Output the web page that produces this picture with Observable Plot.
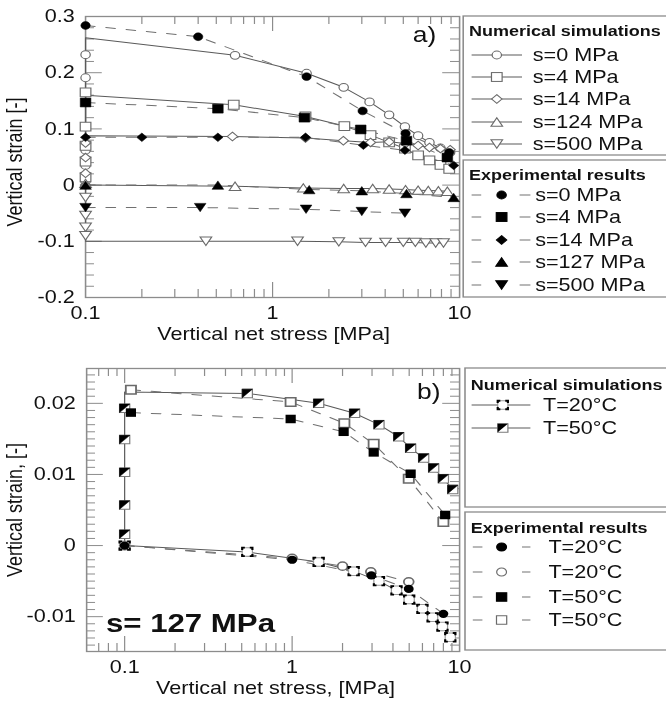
<!DOCTYPE html>
<html>
<head>
<meta charset="utf-8">
<script src="https://cdn.jsdelivr.net/npm/d3@7"></script>
<script src="https://cdn.jsdelivr.net/npm/@observablehq/plot@0.6"></script>
<style>
  html, body { margin:0; padding:0; background:#fff; width:666px; height:701px; overflow:hidden; }
  #stage { position:absolute; left:0; top:0; width:555px; height:701px; transform:scaleX(1.2); transform-origin:0 0; }
  #stage > svg { position:absolute; left:0; }
</style>
</head>
<body>
<div id="stage"></div>
<script>
// ================= DATA: panel a) =================
const a_xTicks = [0.1, 1, 10];
const a_yTicks = [-0.2, -0.1, 0, 0.1, 0.2, 0.3];

// Numerical simulations: strains marked at 0.1 MPa (wetting path), corner strain, loading branch
const simA_s0_wet = [0.007, 0.035, 0.062, 0.191, 0.232];
const simA_s0_top = 0.262;
const simA_s0_p = [0.63, 1.52, 2.4, 3.3, 4.2, 5.1, 6.0, 6.9, 7.9, 8.9];
const simA_s0_e = [0.231, 0.199, 0.174, 0.148, 0.125, 0.104, 0.088, 0.076, 0.066, 0.058];

const simA_s4_wet = [0.014, 0.042, 0.070, 0.104, 0.165];
const simA_s4_top = 0.16;
const simA_s4_p = [0.62, 1.5, 2.42, 3.34, 4.2, 5.1, 6.0, 6.9, 7.9, 8.8];
const simA_s4_e = [0.143, 0.122, 0.105, 0.089, 0.076, 0.065, 0.053, 0.044, 0.036, 0.029];

const simA_s14_wet = [0.0, 0.021, 0.049, 0.075];
const simA_s14_top = 0.088;
const simA_s14_p = [0.61, 1.5, 2.39, 3.34, 4.2, 5.14, 6.0, 6.9, 7.9, 8.9];
const simA_s14_e = [0.0865, 0.084, 0.079, 0.076, 0.077, 0.074, 0.0705, 0.067, 0.065, 0.063];

const simA_s124_wet = [0.003];
const simA_s124_top = 0.0;
const simA_s124_p = [0.63, 1.46, 2.4, 3.43, 4.2, 5.14, 6.0, 6.8, 7.7, 8.6];
const simA_s124_e = [-0.002, -0.005, -0.006, -0.006, -0.007, -0.008, -0.009, -0.0095, -0.010, -0.011];

const simA_s500_wet = [-0.022, -0.054, -0.075, -0.09];
const simA_s500_top = -0.1;
const simA_s500_p = [0.44, 1.36, 2.26, 3.14, 4.02, 5.0, 5.8, 6.6, 7.45, 8.2];
const simA_s500_e = [-0.1, -0.1, -0.101, -0.102, -0.102, -0.102, -0.102, -0.103, -0.103, -0.103];

// Experimental results
const expA_s0_p = [0.1, 0.4, 1.52, 3.03, 5.14, 8.8];
const expA_s0_e = [0.284, 0.264, 0.193, 0.132, 0.092, 0.058];
const expA_s4_p = [0.1, 0.51, 1.48, 2.96, 5.2, 8.6];
const expA_s4_e = [0.147, 0.136, 0.12, 0.099, 0.079, 0.049];
const expA_s14_p = [0.1, 0.2, 0.51, 1.5, 3.06, 5.1, 9.3];
const expA_s14_e = [0.085, 0.085, 0.085, 0.085, 0.071, 0.062, 0.035];
const expA_s127_p = [0.1, 0.51, 1.57, 3.0, 5.2, 9.3];
const expA_s127_e = [0.0, 0.0, -0.008, -0.01, -0.015, -0.022];
const expA_s500_p = [0.1, 0.41, 1.51, 3.0, 5.1];
const expA_s500_e = [-0.04, -0.04, -0.043, -0.047, -0.05];

const legSimA = ["s=0 MPa", "s=4 MPa", "s=14 MPa", "s=124 MPa", "s=500 MPa"];
const legExpA = ["s=0 MPa", "s=4 MPa", "s=14 MPa", "s=127 MPa", "s=500 MPa"];

// ================= DATA: panel b) =================
const b_xTicks = [0.1, 1, 10];
const b_yTicks = [-0.01, 0, 0.01, 0.02];

const simB_T20_p = [0.1, 0.54, 1.44, 2.33, 3.3, 4.2, 5.0, 6.0, 6.9, 7.9, 8.8];
const simB_T20_e = [0, -0.0009, -0.0023, -0.0036, -0.005, -0.0063, -0.0076, -0.0089, -0.0101, -0.0114, -0.0129];

const simB_T50_heat = [0.0016, 0.0057, 0.0103, 0.0149, 0.0193];
const simB_T50_top = 0.0216;
const simB_T50_p = [0.54, 1.44, 2.36, 3.3, 4.33, 5.1, 6.1, 7.0, 8.0, 9.1];
const simB_T50_e = [0.0214, 0.0200, 0.0186, 0.0170, 0.0153, 0.0137, 0.0123, 0.0109, 0.0094, 0.0079];

const expB_T20f_p = [0.1, 1.0, 2.97, 4.97, 8.0];
const expB_T20f_e = [0, -0.002, -0.0042, -0.0061, -0.0096];
const expB_T20o_p = [0.1, 1.0, 2.0, 2.95, 4.97];
const expB_T20o_e = [0, -0.0018, -0.0029, -0.0037, -0.0051];
const expB_T50f_p = [0.109, 0.98, 2.03, 3.07, 5.1, 8.2];
const expB_T50f_e = [0.0187, 0.0178, 0.016, 0.0131, 0.0101, 0.0043];
const expB_T50o_p = [0.109, 0.98, 2.05, 3.07, 4.97, 8.0];
const expB_T50o_e = [0.0219, 0.0202, 0.0172, 0.0143, 0.0094, 0.0033];

const legSimB = ["T=20°C", "T=50°C"];
const legExpB = ["T=20°C", "T=20°C", "T=50°C", "T=50°C"];

// ================= STYLE / HELPERS =================
const W = 555;
const SANS = "'Liberation Sans', Arial, Helvetica, sans-serif";
const INK = "#111";
const GRAY = "#8c8c8c";
const SIMLINE = "#5a5a5a";
const EXPLINE = "#707070";
const OPEN = "#6a6a6a";
const stage = document.getElementById("stage");

const R3 = Math.sqrt(3);
const symDiamond = {draw(c, s) { const r = Math.sqrt(s) * 0.62; c.moveTo(0, -r); c.lineTo(r, 0); c.lineTo(0, r); c.lineTo(-r, 0); c.closePath(); }};
const symTriUp = {draw(c, s) { const y = Math.sqrt(s / (3 * R3)); c.moveTo(0, -1.5 * y); c.lineTo(R3 * y, 1.5 * y); c.lineTo(-R3 * y, 1.5 * y); c.closePath(); }};
const symTriDown = {draw(c, s) { const y = Math.sqrt(s / (3 * R3)); c.moveTo(0, 1.5 * y); c.lineTo(R3 * y, -1.5 * y); c.lineTo(-R3 * y, -1.5 * y); c.closePath(); }};
const symHalf = {draw(c, s) { const h = Math.sqrt(s) / 2; c.moveTo(-h, -h); c.lineTo(h, -h); c.lineTo(-h, h); c.closePath(); }};

const pts = (xs, ys, s) => xs.map((x, i) => ({x, y: ys[i], s}));
const at01 = (ys, s) => ys.map(y => ({x: 0.1, y, s}));

function minorTicks(lo, hi, step, majorStep) {
  return d3.range(Math.round(lo / step), Math.round(hi / step) + 1)
    .map(k => k * step)
    .filter(v => Math.abs(v / majorStep - Math.round(v / majorStep)) > 1e-6);
}

function tickMarks(o) {
  const pw = W - o.ml - o.mr, ph = o.h - o.mt - o.mb;
  const py = ph / (o.yd[1] - o.yd[0]);
  const pdec = pw / Math.log10(o.xd[1] / o.xd[0]);
  const dy = L => L / py, fx = L => Math.pow(10, L / pdec);
  const st = {stroke: GRAY, strokeWidth: 1};
  return [
    Plot.ruleX(o.xMinor, {x: d => d, y1: o.yd[0], y2: o.yd[0] + dy(8), ...st}),
    Plot.ruleX(o.xMajor, {x: d => d, y1: o.yd[0], y2: o.yd[0] + dy(15), ...st}),
    Plot.ruleX(o.xMinor, {x: d => d, y1: o.yd[1], y2: o.yd[1] - dy(8), ...st}),
    Plot.ruleX(o.xMajor, {x: d => d, y1: o.yd[1], y2: o.yd[1] - dy(15), ...st}),
    Plot.ruleY(o.yMinor, {y: d => d, x1: o.xd[0], x2: o.xd[0] * fx(7.5), ...st}),
    Plot.ruleY(o.yMajor, {y: d => d, x1: o.xd[0], x2: o.xd[0] * fx(14), ...st}),
    Plot.ruleY(o.yMinor, {y: d => d, x1: o.xd[1], x2: o.xd[1] / fx(7.5), ...st}),
    Plot.ruleY(o.yMajor, {y: d => d, x1: o.xd[1], x2: o.xd[1] / fx(14), ...st})
  ];
}

function panel(o) {
  const svg = Plot.plot({
    width: W, height: o.h,
    marginLeft: o.ml, marginRight: o.mr, marginTop: o.mt, marginBottom: o.mb,
    x: {type: "log", domain: o.xd},
    y: {domain: o.yd},
    style: {fontFamily: SANS, fontSize: "18px", color: INK, background: "transparent", overflow: "visible"},
    marks: [
      ...tickMarks(o),
      Plot.frame({stroke: GRAY, strokeWidth: 1.3}),
      Plot.axisX(o.xTicks, {tickSize: 0, tickPadding: 9, tickFormat: d => String(d), label: null, fontSize: 18, fill: INK}),
      Plot.axisY(o.yTicks, {tickSize: 0, tickPadding: 9, tickFormat: d => String(d), label: null, fontSize: 18, fill: INK}),
      ...o.marks
    ]
  });
  svg.style.top = o.top + "px";
  stage.appendChild(svg);
}

// ================= PANEL a) =================
const simA = [
  {wet: simA_s0_wet, top: simA_s0_top, p: simA_s0_p, e: simA_s0_e, sym: "circle", r: 3.9},
  {wet: simA_s4_wet, top: simA_s4_top, p: simA_s4_p, e: simA_s4_e, sym: "square", r: 5},
  {wet: simA_s14_wet, top: simA_s14_top, p: simA_s14_p, e: simA_s14_e, sym: symDiamond, r: 3.9},
  {wet: simA_s124_wet, top: simA_s124_top, p: simA_s124_p, e: simA_s124_e, sym: symTriUp, r: 3.6},
  {wet: simA_s500_wet, top: simA_s500_top, p: simA_s500_p, e: simA_s500_e, sym: symTriDown, r: 3.6}
];
const expA = [
  {p: expA_s0_p, e: expA_s0_e, sym: "circle", r: 3.9},
  {p: expA_s4_p, e: expA_s4_e, sym: "square", r: 5},
  {p: expA_s14_p, e: expA_s14_e, sym: symDiamond, r: 3.9},
  {p: expA_s127_p, e: expA_s127_e, sym: symTriUp, r: 3.6},
  {p: expA_s500_p, e: expA_s500_e, sym: symTriDown, r: 3.6}
];

const simALines = simA.flatMap((d, i) => [{x: 0.1, y: 0, s: i}, {x: 0.1, y: d.top, s: i}, ...pts(d.p, d.e, i)]);
const expALines = expA.flatMap((d, i) => pts(d.p, d.e, i));

panel({
  top: 0, h: 345, ml: 70.8, mr: 172.5, mt: 16, mb: 48,
  xd: [0.1, 10], yd: [-0.2, 0.3],
  xTicks: a_xTicks, yTicks: a_yTicks,
  xMinor: [0.2, 0.3, 0.4, 0.5, 0.6, 0.7, 0.8, 0.9, 2, 3, 4, 5, 6, 7, 8, 9],
  xMajor: [1],
  yMinor: minorTicks(-0.2, 0.3, 0.02, 0.1),
  yMajor: [-0.1, 0, 0.1, 0.2],
  marks: [
    Plot.line(simALines, {x: "x", y: "y", z: "s", stroke: SIMLINE, strokeWidth: 1}),
    Plot.line(expALines, {x: "x", y: "y", z: "s", stroke: EXPLINE, strokeWidth: 1, strokeDasharray: "8,9"}),
    ...simA.map((d, i) => Plot.dot([...at01(d.wet, i), ...pts(d.p, d.e, i)], {x: "x", y: "y", symbol: d.sym, r: d.r, fill: "white", stroke: OPEN, strokeWidth: 1})),
    ...expA.map((d, i) => Plot.dot(pts(d.p, d.e, i), {x: "x", y: "y", symbol: d.sym, r: d.r, fill: "black", stroke: "black", strokeWidth: 0.5}))
  ]
});

// ================= PANEL b) =================
const sqR = 4.8, sqSide = sqR * Math.sqrt(Math.PI), cornerLen = 2.2;
const cornerDash = `${cornerLen},${(sqSide - 2 * cornerLen).toFixed(2)},${cornerLen},0`;

const simBT20 = pts(simB_T20_p, simB_T20_e, 0);
const simBT50line = [{x: 0.1, y: 0, s: 1}, {x: 0.1, y: simB_T50_top, s: 1}, ...pts(simB_T50_p, simB_T50_e, 1)];
const simBT50dots = [...at01(simB_T50_heat, 1), ...pts(simB_T50_p, simB_T50_e, 1)];
const expBLines = [
  ...pts(expB_T20f_p, expB_T20f_e, 0), ...pts(expB_T20o_p, expB_T20o_e, 1),
  ...pts(expB_T50f_p, expB_T50f_e, 2), ...pts(expB_T50o_p, expB_T50o_e, 3)
];

panel({
  top: 345, h: 356, ml: 71.7, mr: 172.5, mt: 23, mb: 50,
  xd: [0.0593, 10], yd: [-0.0149, 0.0249],
  xTicks: b_xTicks, yTicks: b_yTicks,
  xMinor: [0.07, 0.08, 0.09, 0.2, 0.3, 0.4, 0.5, 0.6, 0.7, 0.8, 0.9, 2, 3, 4, 5, 6, 7, 8, 9],
  xMajor: [0.1, 1],
  yMinor: minorTicks(-0.014, 0.024, 0.001, 0.01),
  yMajor: [-0.01, 0, 0.01, 0.02],
  marks: [
    Plot.line([...simBT20, ...simBT50line], {x: "x", y: "y", z: "s", stroke: SIMLINE, strokeWidth: 1}),
    Plot.line(expBLines, {x: "x", y: "y", z: "s", stroke: EXPLINE, strokeWidth: 1, strokeDasharray: "8,9"}),
    Plot.dot(pts(expB_T20o_p, expB_T20o_e, 1), {x: "x", y: "y", r: 4.1, fill: "white", stroke: OPEN}),
    Plot.dot(pts(expB_T50o_p, expB_T50o_e, 3), {x: "x", y: "y", symbol: "square", r: sqR, fill: "white", stroke: OPEN}),
    Plot.dot(simBT20, {x: "x", y: "y", symbol: "square", r: sqR, fill: "white", stroke: "#9a9a9a", strokeWidth: 1}),
    Plot.dot(simBT20, {x: "x", y: "y", symbol: "square", r: sqR, fill: "none", stroke: "black", strokeWidth: 1.8, strokeDasharray: cornerDash}),
    Plot.dot(simBT50dots, {x: "x", y: "y", symbol: "square", r: sqR, fill: "white", stroke: "#7a7a7a", strokeWidth: 1}),
    Plot.dot(simBT50dots, {x: "x", y: "y", symbol: symHalf, r: sqR, fill: "black", stroke: "black", strokeWidth: 0.5}),
    Plot.dot(pts(expB_T20f_p, expB_T20f_e, 0), {x: "x", y: "y", r: 4.1, fill: "black"}),
    Plot.dot(pts(expB_T50f_p, expB_T50f_e, 2), {x: "x", y: "y", symbol: "square", r: sqR, fill: "black"})
  ]
});

// ================= OVERLAY: axis titles, panel tags, legends =================
function symSvg(kind, cx, cy, filled) {
  const f = filled ? "#000" : "#fff", s = filled ? "#000" : OPEN;
  const a = `fill="${f}" stroke="${s}" stroke-width="1"`;
  if (kind === "circle") return `<circle cx="${cx}" cy="${cy}" r="3.9" ${a}/>`;
  if (kind === "circleB") return `<circle cx="${cx}" cy="${cy}" r="4.1" ${a}/>`;
  if (kind === "square") { const h = 4.43; return `<rect x="${cx - h}" y="${cy - h}" width="${2 * h}" height="${2 * h}" ${a}/>`; }
  if (kind === "squareB") { const h = sqSide / 2; return `<rect x="${cx - h}" y="${cy - h}" width="${2 * h}" height="${2 * h}" ${a}/>`; }
  if (kind === "diamond") { const r = 4.29; return `<path d="M${cx},${cy - r}L${cx + r},${cy}L${cx},${cy + r}L${cx - r},${cy}Z" ${a}/>`; }
  if (kind === "triUp" || kind === "triDown") {
    const y = 2.78, w = R3 * y, k = kind === "triUp" ? 1 : -1;
    return `<path d="M${cx},${cy - k * 1.5 * y}L${cx + w},${cy + k * 1.5 * y}L${cx - w},${cy + k * 1.5 * y}Z" ${a}/>`;
  }
  if (kind === "corner") {
    const h = sqSide / 2;
    return `<rect x="${cx - h}" y="${cy - h}" width="${2 * h}" height="${2 * h}" fill="#fff" stroke="#9a9a9a"/>` +
      `<path d="M${cx - h},${cy - h}h${2 * h}v${2 * h}h${-2 * h}Z" fill="none" stroke="#000" stroke-width="1.8" stroke-dasharray="${cornerDash}"/>`;
  }
  if (kind === "half") {
    const h = sqSide / 2;
    return `<rect x="${cx - h}" y="${cy - h}" width="${2 * h}" height="${2 * h}" fill="#fff" stroke="#7a7a7a"/>` +
      `<path d="M${cx - h},${cy - h}L${cx + h},${cy - h}L${cx - h},${cy + h}Z" fill="#000"/>`;
  }
  return "";
}

let ov = `<svg xmlns="http://www.w3.org/2000/svg" width="${W}" height="701" style="top:0;overflow:visible" font-family="${SANS}" fill="${INK}">`;

// axis titles
ov += `<text x="228" y="340" font-size="18" text-anchor="middle">Vertical net stress [MPa]</text>`;
ov += `<text transform="translate(18,162) rotate(-90)" font-size="18" text-anchor="middle">Vertical strain [-]</text>`;
ov += `<text x="229.6" y="694.5" font-size="18" text-anchor="middle">Vertical net stress, [MPa]</text>`;
ov += `<text transform="translate(18,510) rotate(-90)" font-size="18" text-anchor="middle">Vertical strain, [-]</text>`;

// panel tags
ov += `<text x="344" y="42" font-size="22">a)</text>`;
ov += `<text x="347.5" y="399" font-size="22">b)</text>`;
ov += `<text x="88.3" y="632" font-size="26" font-weight="bold">s= 127 MPa</text>`;

function box(x, y, h, title, titleY) {
  return `<rect x="${x}" y="${y}" width="190" height="${h}" fill="none" stroke="${GRAY}" stroke-width="1.3"/>` +
    `<text x="${x + 4.8}" y="${titleY}" font-size="15" font-weight="bold">${title}</text>`;
}
function simRow(label, kind, cy, x1, x2, mx, tx) {
  return `<line x1="${x1}" x2="${x2}" y1="${cy}" y2="${cy}" stroke="${SIMLINE}" stroke-width="1"/>` +
    symSvg(kind, mx, cy, false) + `<text x="${tx}" y="${cy + 6.5}" font-size="18">${label}</text>`;
}
function expRow(label, kind, filled, cy, d1, d2, mx, tx) {
  return `<line x1="${d1[0]}" x2="${d1[1]}" y1="${cy}" y2="${cy}" stroke="${EXPLINE}" stroke-width="1"/>` +
    `<line x1="${d2[0]}" x2="${d2[1]}" y1="${cy}" y2="${cy}" stroke="${EXPLINE}" stroke-width="1"/>` +
    symSvg(kind, mx, cy, filled) + `<text x="${tx}" y="${cy + 6.5}" font-size="18">${label}</text>`;
}

const kindsA = ["circle", "square", "diamond", "triUp", "triDown"];
const rowsA1 = [55, 77, 99, 122, 144];
const rowsA2 = [195, 217, 240, 262, 285];
ov += box(386, 16, 139, "Numerical simulations", 36);
legSimA.forEach((t, i) => ov += simRow(t, kindsA[i], rowsA1[i], 393, 435, 414, 444));
ov += box(386, 160, 137, "Experimental results", 180);
legExpA.forEach((t, i) => ov += expRow(t, kindsA[i], true, rowsA2[i], [393, 401], [433, 442], 418, 446));

const rowsB1 = [405, 428];
const rowsB2 = [547, 572, 597, 620];
ov += box(387.5, 368, 139, "Numerical simulations", 390);
legSimB.forEach((t, i) => ov += simRow(t, ["corner", "half"][i], rowsB1[i], 393, 442, 419, 452.5));
ov += box(387.5, 512, 138, "Experimental results", 533);
const kindsB2 = [["circleB", true], ["circleB", false], ["squareB", true], ["squareB", false]];
legExpB.forEach((t, i) => ov += expRow(t, kindsB2[i][0], kindsB2[i][1], rowsB2[i], [394, 402], [435, 442], 418, 457));

ov += `</svg>`;
stage.insertAdjacentHTML("beforeend", ov);
</script>
</body>
</html>
